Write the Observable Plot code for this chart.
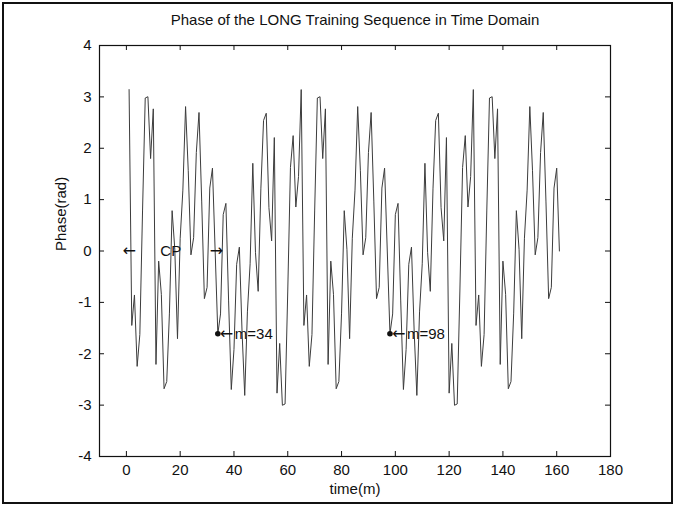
<!DOCTYPE html>
<html>
<head>
<meta charset="utf-8">
<script src="https://cdn.jsdelivr.net/npm/d3@7"></script>
<script src="https://cdn.jsdelivr.net/npm/@observablehq/plot@0.6"></script>
<style>
  html, body { margin: 0; padding: 0; background: #fff; }
  #wrap { position: relative; width: 677px; height: 509px; overflow: hidden; }
  #border { position: absolute; left: 2px; top: 2px; width: 667px; height: 498px; border: 2px solid #111; pointer-events: none; }
</style>
</head>
<body>
<div id="wrap"><div id="chart"></div><div id="border"></div></div>
<script>
// Phase (rad) of each sample of the long training sequence, sample index 1..161
const phase = [
  3.142, -1.449, -0.856, -2.246, -1.626, 0.779, 2.978, 3.003, 1.799, 2.767,
  -2.208, -0.197, -0.843, -2.681, -2.541, -1.209, 0.785, 0.034, -1.707, 0.249,
  1.185, 2.811, 1.562, -0.075, 0.259, 1.915, 2.696, 0.972, -0.927, -0.708,
  1.225, 1.612,
  0, -1.612, -1.225, 0.708, 0.927, -0.972, -2.696, -1.915, -0.259, 0.075,
  -1.562, -2.811, -1.185, -0.249, 1.707, -0.034, -0.785, 1.209, 2.541, 2.681,
  0.843, 0.197, 2.208, -2.767, -1.799, -3.003, -2.978, -0.779, 1.626, 2.246,
  0.856, 1.449, 3.142, -1.449, -0.856, -2.246, -1.626, 0.779, 2.978, 3.003,
  1.799, 2.767, -2.208, -0.197, -0.843, -2.681, -2.541, -1.209, 0.785, 0.034,
  -1.707, 0.249, 1.185, 2.811, 1.562, -0.075, 0.259, 1.915, 2.696, 0.972,
  -0.927, -0.708, 1.225, 1.612,
  0, -1.612, -1.225, 0.708, 0.927, -0.972, -2.696, -1.915, -0.259, 0.075,
  -1.562, -2.811, -1.185, -0.249, 1.707, -0.034, -0.785, 1.209, 2.541, 2.681,
  0.843, 0.197, 2.208, -2.767, -1.799, -3.003, -2.978, -0.779, 1.626, 2.246,
  0.856, 1.449, 3.142, -1.449, -0.856, -2.246, -1.626, 0.779, 2.978, 3.003,
  1.799, 2.767, -2.208, -0.197, -0.843, -2.681, -2.541, -1.209, 0.785, 0.034,
  -1.707, 0.249, 1.185, 2.811, 1.562, -0.075, 0.259, 1.915, 2.696, 0.972,
  -0.927, -0.708, 1.225, 1.612,
  0
];
const xTicks = [0, 20, 40, 60, 80, 100, 120, 140, 160, 180];
const yTicks = [-4, -3, -2, -1, 0, 1, 2, 3, 4];
const markers = [ {m: 34, label: "m=34"}, {m: 98, label: "m=98"} ];
const cpArrows = [ {m: 1, label: "←"}, {m: 33.5, label: "→"} ];
const cpText = [ {m: 16.5, label: "CP"} ];
const titleText = "Phase of the LONG Training Sequence in Time Domain";
const xLabel = "time(m)";
const yLabel = "Phase(rad)";

const series = phase.map((v, i) => ({m: i + 1, v}));
const markerPts = markers.map(d => ({...d, v: phase[d.m - 1]}));

const font = "'Liberation Sans', Arial, Helvetica, sans-serif";
const arrowFont = "'DejaVu Sans', sans-serif";
const xDom = [-10, 180], yDom = [-4, 4];
const W = 677, H = 509, mL = 99, mR = 67, mT = 45, mB = 53;
const tickLenX = 5 * (xDom[1] - xDom[0]) / (W - mL - mR);
const tickLenY = 5 * (yDom[1] - yDom[0]) / (H - mT - mB);
const fs = 15;

const chart = Plot.plot({
  width: W, height: H,
  marginLeft: mL, marginRight: mR, marginTop: mT, marginBottom: mB,
  style: {fontFamily: font, fontSize: fs + "px", color: "#111", background: "white"},
  x: {domain: xDom},
  y: {domain: yDom},
  marks: [
    Plot.line(series, {x: "m", y: "v", stroke: "#3c3c3c", strokeWidth: 1}),
    // inward ticks on all four sides
    Plot.ruleX(xTicks, {x: d => d, y1: yDom[0], y2: yDom[0] + tickLenY, stroke: "#111"}),
    Plot.ruleX(xTicks, {x: d => d, y1: yDom[1], y2: yDom[1] - tickLenY, stroke: "#111"}),
    Plot.ruleY(yTicks, {y: d => d, x1: xDom[0], x2: xDom[0] + tickLenX, stroke: "#111"}),
    Plot.ruleY(yTicks, {y: d => d, x1: xDom[1], x2: xDom[1] - tickLenX, stroke: "#111"}),
    Plot.frame({stroke: "#111", strokeWidth: 1.2}),
    Plot.axisX({ticks: xTicks, tickSize: 0, tickPadding: 8, tickFormat: d => String(d), label: null, fontSize: fs}),
    Plot.axisY({ticks: yTicks, tickSize: 0, tickPadding: 8, tickFormat: d => String(d), label: null, fontSize: fs}),
    // annotations
    Plot.dot(markerPts, {x: "m", y: "v", r: 2.8, fill: "#111", stroke: "none"}),
    Plot.text(markerPts, {x: "m", y: "v", text: () => "←", textAnchor: "start", dx: 2, fontSize: 16, fontFamily: arrowFont, fill: "#111"}),
    Plot.text(markerPts, {x: "m", y: "v", text: "label", textAnchor: "start", dx: 17, fontSize: fs, fill: "#111"}),
    Plot.text(cpArrows, {x: "m", y: 0, text: "label", textAnchor: d => d.label === "←" ? "start" : "end", fontSize: 16, fontFamily: arrowFont, fill: "#111"}),
    Plot.text(cpText, {x: "m", y: 0, text: "label", textAnchor: "middle", fontSize: fs, fill: "#111"}),
    // title and axis labels
    Plot.text([titleText], {frameAnchor: "top", dy: -25, lineAnchor: "middle", fontSize: fs, fill: "#111"}),
    Plot.text([xLabel], {frameAnchor: "bottom", dy: 33, lineAnchor: "middle", fontSize: fs, fill: "#111"}),
    Plot.text([yLabel], {frameAnchor: "left", dx: -38, rotate: -90, fontSize: fs, fill: "#111"})
  ]
});
document.getElementById("chart").appendChild(chart);
</script>
</body>
</html>
